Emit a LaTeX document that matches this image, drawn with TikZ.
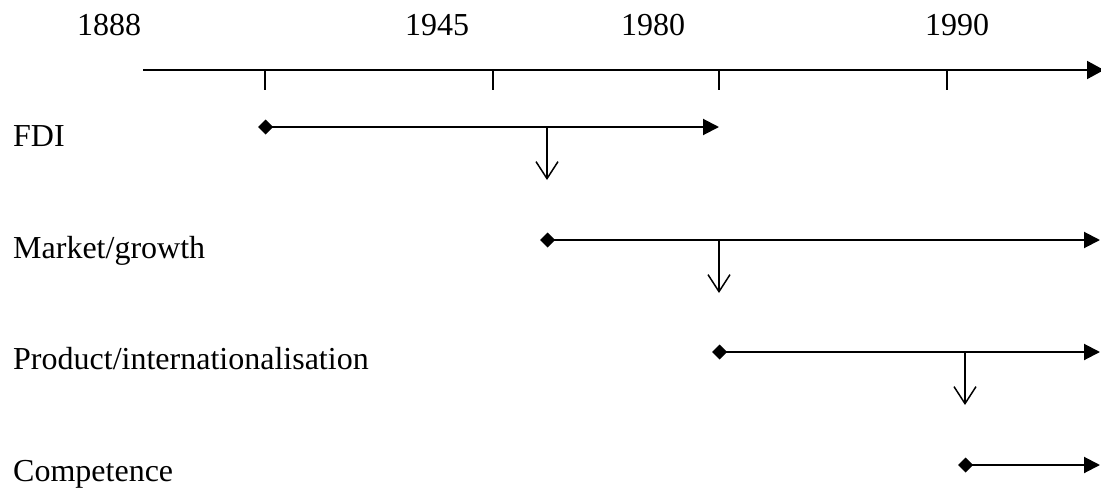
\documentclass[tikz,border=0pt]{standalone}
\usepackage{fontspec}
\setmainfont{Liberation Serif}
\usetikzlibrary{arrows.meta,positioning}

\begin{document}
\begin{tikzpicture}[
  x=1pt, y=-1pt,
  font=\fontsize{32}{38}\selectfont,
  year/.style = {anchor=base, inner sep=0pt},
  lbl/.style = {anchor=base west, inner sep=0pt},
  axis/.style = {line width=2pt, -{Triangle[length=17pt,width=18pt]}},
  span/.style = {line width=2pt, shorten <=-7pt,
                 {Diamond[length=15pt,width=15pt]}-{Triangle[length=16pt,width=16pt]}},
  drop/.style = {line width=1.5pt, -{Straight Barb[length=17pt,width=22pt]}},
]
\useasboundingbox (0,0) rectangle (1101,490);

% years
\node[year] at (109,35) (y1888) {1888};
\node[year] at (437,35) (y1945) {1945};
\node[year] at (653,35) (y1980) {1980};
\node[year] at (957,35) (y1990) {1990};

% time axis
\coordinate (ax0) at (143,70);
\coordinate (ax1) at (1104,70);
\draw[axis] (ax0) -- (ax1);
\foreach \x/\n in {265/1, 493/2, 719/3, 947/4} {
  \coordinate (tk\n) at (\x,70);
  \draw[line width=2pt] (tk\n) -- ++(0,20);
}

% phases
\node[lbl] at (13,146) (fdi) {FDI};
\node[lbl] at (13,258) (mkt) {Market/growth};
\node[lbl] at (13,369) (prd) {Product/internationalisation};
\node[lbl] at (13,481) (cmp) {Competence};

\coordinate (fdiA) at (265,127);  \coordinate (fdiB) at (719,127);
\coordinate (mktA) at (547,240);  \coordinate (mktB) at (1100,240);
\coordinate (prdA) at (719,352);  \coordinate (prdB) at (1100,352);
\coordinate (cmpA) at (965,465);  \coordinate (cmpB) at (1100,465);

\draw[span] (fdiA) -- (fdiB);
\draw[span] (mktA) -- (mktB);
\draw[span] (prdA) -- (prdB);
\draw[span] (cmpA) -- (cmpB);

% hand-over to the next phase
\draw[drop] (547,127) -- (547,180);
\draw[drop] (719,240) -- (719,293);
\draw[drop] (965,352) -- (965,405);
\end{tikzpicture}
\end{document}
